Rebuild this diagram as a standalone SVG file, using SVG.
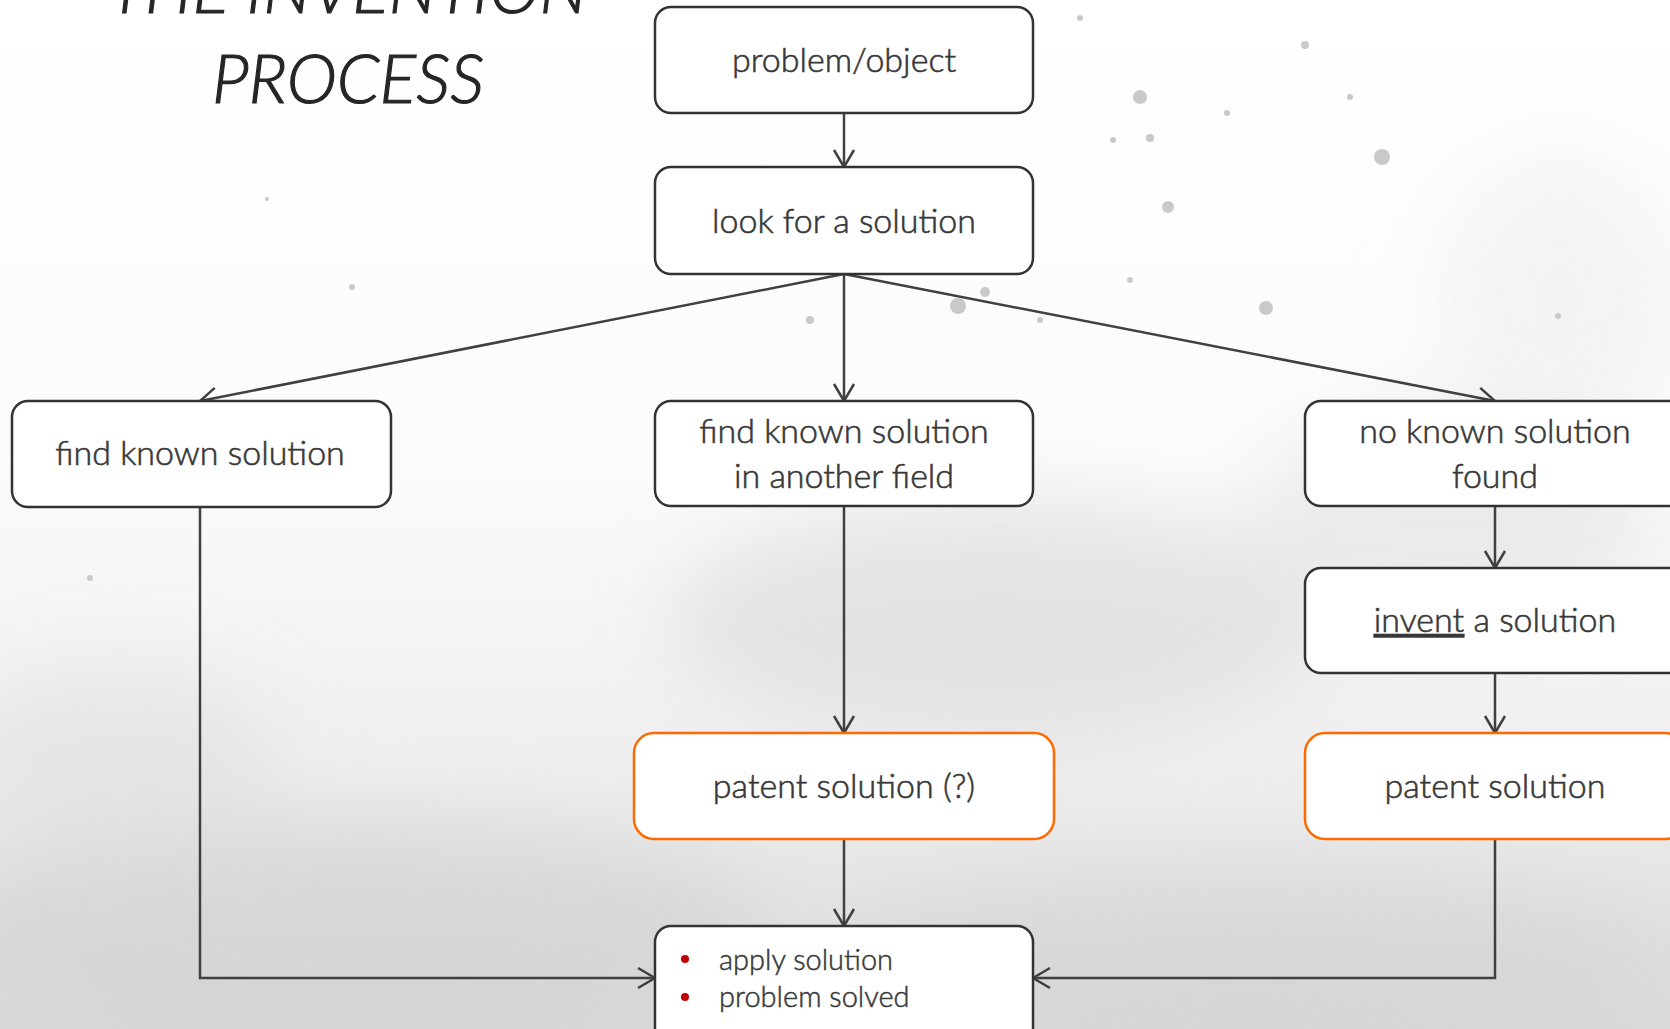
<svg xmlns="http://www.w3.org/2000/svg" width="1670" height="1029" viewBox="0 0 1670 1029">
<defs>
<style>
.node{fill:#ffffff;stroke:#333333;stroke-width:2.5}
.pat{fill:#ffffff;stroke:#ff6a00;stroke-width:2.5}
.t{font-family:Lato,"Open Sans","Liberation Sans",sans-serif;font-weight:300;font-size:34px;fill:#383838;stroke:#383838;stroke-width:0.6;text-anchor:middle}
.s{font-family:Lato,"Open Sans","Liberation Sans",sans-serif;font-weight:300;font-size:29px;fill:#383838;stroke:#383838;stroke-width:0.5}
.title{font-family:Lato,"Open Sans","Liberation Sans",sans-serif;font-weight:300;font-style:italic;font-size:68px;fill:#262626;stroke:#262626;stroke-width:1.2;text-anchor:middle}
.c{fill:none;stroke:#404040;stroke-width:2.5;marker-end:url(#arr)}
.dot{fill:#c9c9c9}
</style>
<marker id="arr" viewBox="-20 -12 24 24" refX="0" refY="0" markerWidth="24" markerHeight="24" markerUnits="userSpaceOnUse" orient="auto">
<path d="M-17,-10 L0,0 L-17,10" fill="none" stroke="#404040" stroke-width="2.5"/>
</marker>
<filter id="blur" x="-50%" y="-50%" width="200%" height="200%"><feGaussianBlur stdDeviation="40"/></filter>
<linearGradient id="bg" x1="0" y1="0" x2="0" y2="1">
<stop offset="0" stop-color="#ffffff"/>
<stop offset="0.45" stop-color="#fbfbfb"/>
<stop offset="0.75" stop-color="#eeeeee"/>
<stop offset="1" stop-color="#d9d9d9"/>
</linearGradient>
</defs>
<g id="background">
<rect width="1670" height="1029" fill="url(#bg)"/>
<g filter="url(#blur)" opacity="0.55">
<ellipse cx="1000" cy="620" rx="330" ry="120" fill="#d6d6d6"/>
<ellipse cx="1450" cy="520" rx="200" ry="110" fill="#e0e0e0"/>
<ellipse cx="350" cy="930" rx="420" ry="110" fill="#cfcfcf"/>
<ellipse cx="1250" cy="960" rx="420" ry="90" fill="#d2d2d2"/>
<ellipse cx="120" cy="760" rx="160" ry="90" fill="#dedede"/>
<ellipse cx="1560" cy="300" rx="120" ry="150" fill="#ececec"/>
</g>
<circle class="dot" cx="1140" cy="97" r="7"/>
<circle class="dot" cx="1382" cy="157" r="8"/>
<circle class="dot" cx="1168" cy="207" r="6"/>
<circle class="dot" cx="1266" cy="308" r="7"/>
<circle class="dot" cx="958" cy="306" r="8"/>
<circle class="dot" cx="985" cy="292" r="5"/>
<circle class="dot" cx="1150" cy="138" r="4"/>
<circle class="dot" cx="1305" cy="45" r="4"/>
<circle class="dot" cx="1227" cy="113" r="3"/>
<circle class="dot" cx="1080" cy="18" r="3"/>
<circle class="dot" cx="810" cy="320" r="4"/>
<circle class="dot" cx="1040" cy="320" r="3"/>
<circle class="dot" cx="1113" cy="140" r="3"/>
<circle class="dot" cx="1350" cy="97" r="3"/>
<circle class="dot" cx="1558" cy="316" r="3"/>
<circle class="dot" cx="1130" cy="280" r="3"/>
<circle class="dot" cx="352" cy="287" r="3"/>
<circle class="dot" cx="90" cy="578" r="3"/>
<circle class="dot" cx="267" cy="199" r="2"/>
</g>
<g id="title">
<text class="title" x="348" y="13">THE INVENTION</text>
<text class="title" x="348" y="103">PROCESS</text>
</g>
<g id="connectors">
<line class="c" x1="844" y1="113" x2="844" y2="167"/>
<line class="c" x1="844" y1="274" x2="200" y2="401"/>
<line class="c" x1="844" y1="274" x2="844" y2="401"/>
<line class="c" x1="844" y1="274" x2="1495" y2="401"/>
<line class="c" x1="1495" y1="506" x2="1495" y2="568"/>
<line class="c" x1="1495" y1="673" x2="1495" y2="733"/>
<line class="c" x1="844" y1="506" x2="844" y2="733"/>
<line class="c" x1="844" y1="839" x2="844" y2="926"/>
<polyline class="c" points="200,507 200,978 655,978"/>
<polyline class="c" points="1495,839 1495,978 1033,978"/>
</g>
<g id="n-problem">
<rect class="node" x="655" y="7" width="378" height="106" rx="16"/>
<text class="t" x="844" y="72">problem/object</text>
</g>
<g id="n-look">
<rect class="node" x="655" y="167" width="378" height="107" rx="16"/>
<text class="t" x="844" y="233">look for a solution</text>
</g>
<g id="n-known">
<rect class="node" x="12" y="401" width="379" height="106" rx="16"/>
<text class="t" x="200" y="465">find known solution</text>
</g>
<g id="n-another">
<rect class="node" x="655" y="401" width="378" height="105" rx="16"/>
<text class="t" x="844" y="443">find known solution</text>
<text class="t" x="844" y="488">in another field</text>
</g>
<g id="n-none">
<rect class="node" x="1305" y="401" width="380" height="105" rx="16"/>
<text class="t" x="1495" y="443">no known solution</text>
<text class="t" x="1495" y="488">found</text>
</g>
<g id="n-invent">
<rect class="node" x="1305" y="568" width="380" height="105" rx="16"/>
<text class="t" x="1495" y="632"><tspan text-decoration="underline">invent</tspan> a solution</text>
</g>
<g id="n-patent-q">
<rect class="pat" x="634" y="733" width="420" height="106" rx="20"/>
<text class="t" x="844" y="798">patent solution (?)</text>
</g>
<g id="n-patent">
<rect class="pat" x="1305" y="733" width="380" height="106" rx="20"/>
<text class="t" x="1495" y="798">patent solution</text>
</g>
<g id="n-apply">
<rect class="node" x="655" y="926" width="378" height="120" rx="16"/>
<circle cx="685" cy="959" r="4" fill="#c00000"/>
<circle cx="685" cy="997" r="4" fill="#c00000"/>
<text class="s" x="719" y="970">apply solution</text>
<text class="s" x="719" y="1007">problem solved</text>
</g>
</svg>
